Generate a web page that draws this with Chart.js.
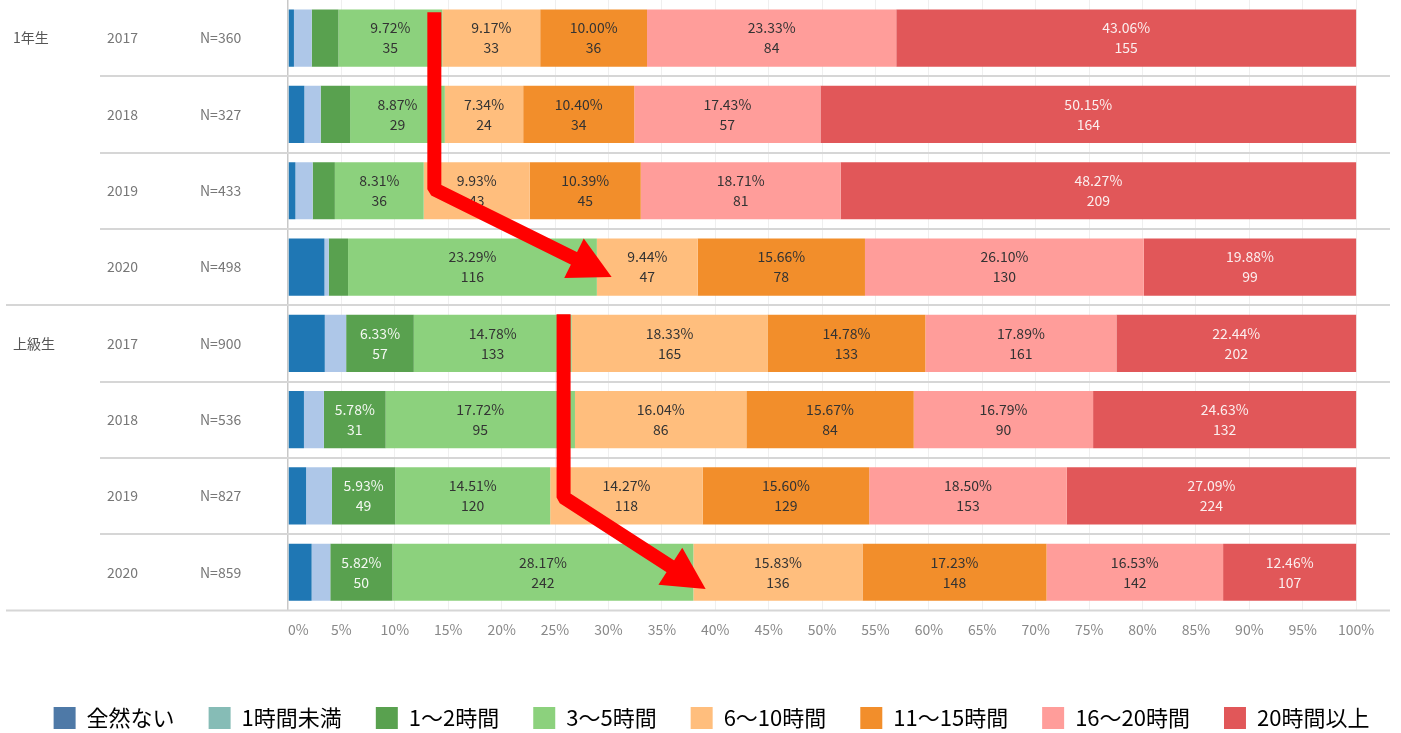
<!DOCTYPE html>
<html>
<head>
<meta charset="utf-8">
<script src="https://cdn.jsdelivr.net/npm/chart.js@4/dist/chart.umd.min.js"></script>
<style>
  html, body { margin: 0; padding: 0; background: #fff; }
  #wrap { width: 1401px; height: 733px; }
</style>
</head>
<body>
<div id="wrap"><canvas id="chart" width="1401" height="733"></canvas></div>
<script>
// rows
const groups = ["1年生", "", "", "", "上級生", "", "", ""];
const years = ["2017", "2018", "2019", "2020", "2017", "2018", "2019", "2020"];
const sampleN = [360, 327, 433, 498, 900, 536, 827, 859];

// categories (legend order)
const categories = ["全然ない", "1時間未満", "1～2時間", "3～5時間", "6～10時間", "11～15時間", "16～20時間", "20時間以上"];

// counts per category, one value per row
const none = [2, 5, 3, 17, 31, 8, 14, 19];
const under1 = [6, 5, 7, 2, 18, 10, 20, 15];
const h1to2 = [9, 9, 9, 9, 57, 31, 49, 50];
const h3to5 = [35, 29, 36, 116, 133, 95, 120, 242];
const h6to10 = [33, 24, 43, 47, 165, 86, 118, 136];
const h11to15 = [36, 34, 45, 78, 133, 84, 129, 148];
const h16to20 = [84, 57, 81, 130, 161, 90, 153, 142];
const h20plus = [155, 164, 209, 99, 202, 132, 224, 107];

const xTicks = [0, 5, 10, 15, 20, 25, 30, 35, 40, 45, 50, 55, 60, 65, 70, 75, 80, 85, 90, 95, 100];

const barColors = ["#1f77b4", "#aec7e8", "#59a14f", "#8cd17d", "#ffbe7d", "#f28e2b", "#ff9d9a", "#e15759"];
const legendColors = ["#4e79a7", "#86bcb6", "#59a14f", "#8cd17d", "#ffbe7d", "#f28e2b", "#ff9d9a", "#e15759"];
const labelColors = ["#333", "#333", "#f4f8f2", "#333", "#333", "#333", "#333", "#fbeeee"];

// red annotation arrows, in axis units (x: %, y: row index)
const arrows = [
  [[13.7, -0.34], [13.7, 1.98], [30.3, 3.13]],
  [[25.8, 3.62], [25.8, 6.02], [39.1, 7.22]]
];

const series = [none, under1, h1to2, h3to5, h6to10, h11to15, h16to20, h20plus];
const FONT = "'Noto Sans CJK JP', 'Noto Sans', sans-serif";

const datasets = series.map((counts, k) => ({
  label: categories[k],
  data: counts.map((c, i) => c / sampleN[i] * 100),
  counts: counts,
  backgroundColor: barColors[k],
  barPercentage: 0.75,
  categoryPercentage: 1.0
}));

const decorPlugin = {
  id: "decor",
  afterLayout(chart) {
    // nudge the legend row down and right a little
    chart.legend.top += 6;
    chart.legend.bottom += 6;
    chart.legend.left += 15;
    chart.legend.right += 15;
  },
  beforeDatasetsDraw(chart) {
    const { ctx, chartArea } = chart;
    const y = chart.scales.y;
    ctx.save();
    ctx.strokeStyle = "#d6d6d6";
    ctx.lineWidth = 2;
    for (let i = 1; i <= years.length; i++) {
      const py = i < years.length ? Math.round((y.getPixelForValue(i - 1) + y.getPixelForValue(i)) / 2) : chartArea.bottom;
      const x0 = (i === 4 || i === years.length) ? 6 : 100;
      ctx.beginPath();
      ctx.moveTo(x0, py);
      ctx.lineTo(chartArea.right, py);
      ctx.stroke();
    }
    ctx.font = "14px " + FONT;
    ctx.textBaseline = "middle";
    ctx.textAlign = "left";
    for (let i = 0; i < years.length; i++) {
      const py = y.getPixelForValue(i);
      ctx.fillStyle = "#555";
      if (groups[i]) ctx.fillText(groups[i], 13, py);
      ctx.fillStyle = "#777";
      ctx.fillText(years[i], 107, py);
      ctx.fillText("N=" + sampleN[i], 200, py);
    }
    ctx.restore();
  },
  afterDatasetsDraw(chart) {
    const { ctx } = chart;
    ctx.save();
    ctx.font = "14px " + FONT;
    ctx.textAlign = "center";
    ctx.textBaseline = "middle";
    chart.data.datasets.forEach((ds, k) => {
      chart.getDatasetMeta(k).data.forEach((bar, i) => {
        const v = ds.data[i];
        if (v < 5) return;
        const cx = (bar.x + bar.base) / 2;
        ctx.fillStyle = labelColors[k];
        ctx.fillText(v.toFixed(2) + "%", cx, bar.y - 10);
        ctx.fillText(String(ds.counts[i]), cx, bar.y + 10);
      });
    });
    ctx.restore();
  },
  afterDraw(chart) {
    const { ctx } = chart;
    const xs = chart.scales.x, ys = chart.scales.y;
    ctx.save();
    ctx.strokeStyle = "#ff0000";
    ctx.fillStyle = "#ff0000";
    ctx.lineWidth = 14;
    ctx.lineCap = "butt";
    ctx.lineJoin = "bevel";
    arrows.forEach(pts => {
      const p = pts.map(([vx, vy]) => [xs.getPixelForValue(vx), ys.getPixelForValue(vy)]);
      const [a, b, tip] = p;
      const dx = tip[0] - b[0], dy = tip[1] - b[1];
      const len = Math.hypot(dx, dy);
      const ux = dx / len, uy = dy / len;
      const headLen = 42, headW = 22;
      const base = [tip[0] - ux * headLen, tip[1] - uy * headLen];
      ctx.beginPath();
      ctx.moveTo(a[0], a[1]);
      ctx.lineTo(b[0], b[1]);
      ctx.lineTo(base[0] + ux * 2, base[1] + uy * 2);
      ctx.stroke();
      ctx.beginPath();
      ctx.moveTo(tip[0], tip[1]);
      ctx.lineTo(base[0] - uy * headW, base[1] + ux * headW);
      ctx.lineTo(base[0] + uy * headW, base[1] - ux * headW);
      ctx.closePath();
      ctx.fill();
    });
    ctx.restore();
  }
};

new Chart(document.getElementById("chart").getContext("2d"), {
  type: "bar",
  data: { labels: years, datasets: datasets },
  options: {
    indexAxis: "y",
    responsive: false,
    animation: false,
    layout: { padding: { left: 0, right: 8, top: 0, bottom: 0 } },
    scales: {
      x: {
        stacked: true,
        min: 0,
        max: 103.17,
        afterBuildTicks: axis => { axis.ticks = xTicks.map(v => ({ value: v })).concat([{ value: 103.17 }]); },
        grid: {
          drawTicks: false,
          color: c => c.tick.value === 0 ? "#c8c8c8" : (c.tick.value > 100 ? "rgba(0,0,0,0)" : "#efefef"),
          lineWidth: c => c.tick.value === 0 ? 1.5 : 1
        },
        border: { display: false },
        ticks: {
          align: "inner",
          padding: 11,
          color: "#888",
          font: { family: FONT, size: 14 },
          callback: v => v > 100 ? "" : v + "%"
        },
        title: { display: true, text: " ", padding: { top: 0, bottom: 1 }, font: { size: 14 } }
      },
      y: {
        stacked: true,
        grid: { display: false },
        border: { display: false },
        ticks: { display: false },
        afterFit: axis => { axis.width = 288; }
      }
    },
    plugins: {
      legend: {
        position: "bottom",
        labels: {
          boxWidth: 22,
          boxHeight: 22,
          padding: 34,
          color: "#555",
          font: { family: FONT, size: 22 },
          generateLabels: () => categories.map((c, k) => ({
            text: c,
            fillStyle: legendColors[k],
            strokeStyle: legendColors[k],
            lineWidth: 0,
            datasetIndex: k
          }))
        }
      },
      tooltip: { enabled: false }
    }
  },
  plugins: [decorPlugin]
});
</script>
</body>
</html>
